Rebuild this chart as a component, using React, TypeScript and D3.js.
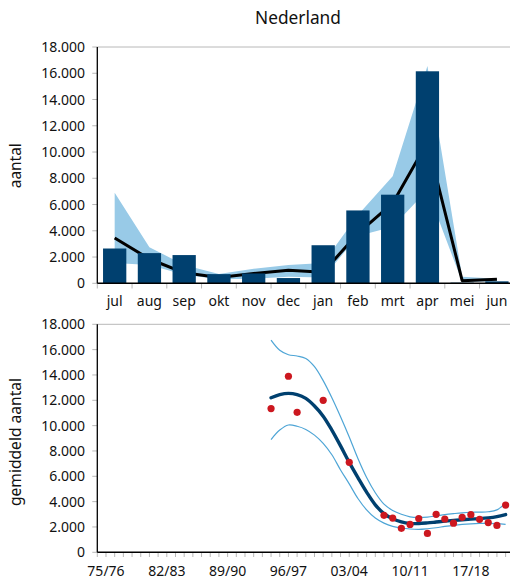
import React from "react";
import * as d3 from "d3";

const months = ["jul", "aug", "sep", "okt", "nov", "dec", "jan", "feb", "mrt", "apr", "mei", "jun"];
const monthCounts = [2650, 2300, 2150, 700, 750, 400, 2900, 5550, 6750, 16150, 50, 150];
const monthMean = [3450, 1850, 800, 450, 750, 1000, 850, 3800, 6100, 10750, 200, 300];
const monthUpper = [6900, 2750, 1400, 700, 1100, 1400, 1550, 5200, 8150, 16550, 500, 350];
const monthLower = [1550, 1400, 650, 300, 350, 500, 450, 3600, 4300, 7100, 100, 150];

const dotYears = [1994, 1996, 1997, 2000, 2003, 2007, 2008, 2009, 2010, 2011, 2012, 2013, 2014, 2015, 2016, 2017, 2018, 2019, 2020, 2021];
const dotValues = [11350, 13900, 11050, 12000, 7100, 2920, 2700, 1890, 2200, 2670, 1490, 3000, 2630, 2300, 2760, 2970, 2600, 2350, 2120, 3730];

const trendYears = [1994, 1995, 1996, 1997, 1998, 1999, 2000, 2001, 2002, 2003, 2004, 2005, 2006, 2007, 2008, 2009, 2010, 2011, 2012, 2013, 2014, 2015, 2016, 2017, 2018, 2019, 2020, 2021];
const trendMean = [12200, 12450, 12550, 12450, 12150, 11550, 10750, 9650, 8400, 7100, 5900, 4750, 3750, 3050, 2650, 2400, 2280, 2270, 2320, 2390, 2460, 2520, 2570, 2620, 2660, 2720, 2820, 2980];
const trendUpper = [16750, 15950, 15600, 15500, 15300, 14650, 13550, 12200, 10700, 9100, 7400, 5900, 4700, 3800, 3300, 3000, 2800, 2750, 2780, 2870, 2970, 3050, 3120, 3160, 3170, 3200, 3350, 3900];
const trendLower = [8900, 9650, 10050, 9950, 9700, 9250, 8600, 7700, 6500, 5400, 4250, 3350, 2700, 2300, 2050, 1920, 1840, 1810, 1860, 1940, 2040, 2130, 2200, 2250, 2280, 2290, 2260, 2210];

const yTicks = [0, 2000, 4000, 6000, 8000, 10000, 12000, 14000, 16000, 18000];
const yearLabelYears = [1975, 1982, 1989, 1996, 2003, 2010, 2017];

const FONT = "'Noto Sans', 'Open Sans', sans-serif";
const NAVY = "#00406f";
const BAND = "#98cae7";
const THIN = "#4ea5d6";
const RED = "#cc171f";
const GRID = "#b8b8b8";

const fmt = (v: number) => (v === 0 ? "0" : d3.format(",")(v).replace(/,/g, "."));
const seasonLabel = (y: number) => {
  const a = String(y % 100).padStart(2, "0");
  const b = String((y + 1) % 100).padStart(2, "0");
  return `${a}/${b}`;
};

const X0 = 97.3;
const X1 = 514.3;

function YAxis({ y }: { y: d3.ScaleLinear<number, number> }) {
  return (
    <g>
      {yTicks.map((t) => (
        <g key={t}>
          <line x1={X0 - 5} x2={X0} y1={y(t)} y2={y(t)} stroke={GRID} strokeWidth={1} />
          <text x={85} y={y(t)} dy="0.36em" textAnchor="end" fontSize={14} fontFamily={FONT} fill="#111">
            {fmt(t)}
          </text>
        </g>
      ))}
    </g>
  );
}

export default function App() {
  // Top chart
  const topY = d3.scaleLinear().domain([0, 18000]).range([283.3, 47]);
  const band = d3.scaleBand<string>().domain(months).range([X0, X1]).paddingInner(0.33).paddingOuter(0.165);
  const step = band.step();
  const cx = (m: string) => (band(m) as number) + band.bandwidth() / 2;

  const area = d3
    .area<number>()
    .x((_, i) => cx(months[i]))
    .y0((_, i) => topY(monthLower[i]))
    .y1((_, i) => topY(monthUpper[i]));
  const meanLine = d3
    .line<number>()
    .x((_, i) => cx(months[i]))
    .y((d) => topY(d));

  // Bottom chart
  const botY = d3.scaleLinear().domain([0, 18000]).range([552.3, 324.3]);
  const botX = d3.scaleLinear().domain([1974, 2022]).range([X0, X1]);
  const curve = d3
    .line<number>()
    .x((_, i) => botX(trendYears[i]))
    .y((d) => botY(d))
    .curve(d3.curveCatmullRom.alpha(0.5));
  const yearTicks = d3.range(1974, 2022);

  const bandEdges = d3.range(0, months.length + 1).map((i) => X0 + i * step);

  return (
    <div style={{ position: "absolute", left: 0, top: 0 }}>
      <svg width={510} height={579} style={{ display: "block", background: "#fff" }}>
        <text x={298} y={24} textAnchor="middle" fontSize={17.3} fontFamily={FONT} fill="#111">
          Nederland
        </text>

        {/* ---------- top chart ---------- */}
        <line x1={X0} x2={X1} y1={47} y2={47} stroke={GRID} strokeWidth={1} />
        <path d={area(monthCounts) || ""} fill={BAND} />
        <path d={meanLine(monthMean) || ""} fill="none" stroke="#000" strokeWidth={3} strokeLinejoin="round" />
        {months.map((m, i) => (
          <rect
            key={m}
            x={band(m)}
            y={topY(monthCounts[i])}
            width={band.bandwidth()}
            height={topY(0) - topY(monthCounts[i])}
            fill={NAVY}
          />
        ))}
        <YAxis y={topY} />
        {bandEdges.map((x, i) => (
          <line key={i} x1={x} x2={x} y1={283.3} y2={288.5} stroke={GRID} strokeWidth={1} />
        ))}
        <line x1={X0} x2={X0} y1={47} y2={283.3} stroke="#000" strokeWidth={1.3} />
        <line x1={X0} x2={X1} y1={283.3} y2={283.3} stroke="#000" strokeWidth={1.5} />
        {months.map((m) => (
          <text key={m} x={cx(m)} y={306} textAnchor="middle" fontSize={14} fontFamily={FONT} fill="#111">
            {m}
          </text>
        ))}
        <text
          transform={`translate(20.5,165.7) rotate(-90)`}
          textAnchor="middle"
          fontSize={15.4}
          fontFamily={FONT}
          fill="#111"
        >
          aantal
        </text>

        {/* ---------- bottom chart ---------- */}
        <line x1={X0} x2={X1} y1={324.3} y2={324.3} stroke={GRID} strokeWidth={1} />
        <path d={curve(trendUpper) || ""} fill="none" stroke={THIN} strokeWidth={1.2} />
        <path d={curve(trendLower) || ""} fill="none" stroke={THIN} strokeWidth={1.2} />
        <path d={curve(trendMean) || ""} fill="none" stroke={NAVY} strokeWidth={3.4} strokeLinecap="round" />
        {dotYears.map((yr, i) => (
          <circle key={yr} cx={botX(yr)} cy={botY(dotValues[i])} r={3.6} fill={RED} />
        ))}
        <YAxis y={botY} />
        {yearTicks.map((yr) => (
          <line key={yr} x1={botX(yr)} x2={botX(yr)} y1={552.3} y2={557} stroke={GRID} strokeWidth={1} />
        ))}
        <line x1={X0} x2={X0} y1={324.3} y2={552.3} stroke="#000" strokeWidth={1.3} />
        <line x1={X0} x2={X1} y1={552.3} y2={552.3} stroke="#000" strokeWidth={1.5} />
        {yearLabelYears.map((yr) => (
          <text key={yr} x={botX(yr)} y={576} textAnchor="middle" fontSize={14} fontFamily={FONT} fill="#111">
            {seasonLabel(yr)}
          </text>
        ))}
        <text
          transform={`translate(20.5,442) rotate(-90)`}
          textAnchor="middle"
          fontSize={15.6}
          fontFamily={FONT}
          fill="#111"
        >
          gemiddeld aantal
        </text>
      </svg>
    </div>
  );
}
